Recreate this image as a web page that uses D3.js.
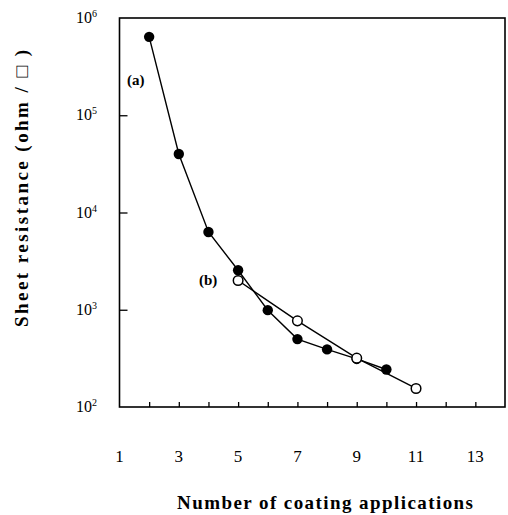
<!DOCTYPE html>
<html><head><meta charset="utf-8">
<script src="https://cdn.jsdelivr.net/npm/d3@7"></script>
<style>body{margin:0;background:#fff}svg{display:block}</style>
</head><body>
<script>
const seriesAX = [2, 3, 4, 5, 6, 7, 8, 9, 10];
const seriesAY = [640000, 40000, 6300, 2550, 990, 499, 391, 312, 243];
const seriesBX = [5, 7, 9, 11];
const seriesBY = [2000, 769, 318, 155];
const xTickLabels = [1, 3, 5, 7, 9, 11, 13];
const xMinorTicks = [2, 3, 4, 5, 6, 7, 8, 9, 10, 11, 12, 13];
const yTickExps = [2, 3, 4, 5, 6];

const W = 508, H = 515;
const svg = d3.select("body").append("svg").attr("width", W).attr("height", H);
const x = d3.scaleLinear().domain([1, 14]).range([119.5, 505]);
const y = d3.scaleLog().domain([100, 1e6]).range([407, 18]);
const serif = "'Liberation Serif','DejaVu Serif',serif";

// frame
svg.append("rect").attr("x", x(1)).attr("y", y(1e6))
  .attr("width", x(14) - x(1)).attr("height", y(100) - y(1e6))
  .attr("fill", "none").attr("stroke", "#000").attr("stroke-width", 1.6);

// bottom ticks (inward)
svg.append("g").attr("transform", `translate(0,${y(100)})`)
  .call(d3.axisBottom(x).tickValues(xMinorTicks).tickSize(-5).tickFormat(""))
  .call(g => g.select(".domain").remove())
  .call(g => g.selectAll("line").attr("stroke-width", 1.3));

// x tick labels
svg.append("g").selectAll("text").data(xTickLabels).join("text")
  .attr("x", d => x(d)).attr("y", 462)
  .attr("text-anchor", "middle").attr("font-family", serif)
  .attr("font-size", 17).text(d => d);

// left ticks (inward)
svg.append("g").attr("transform", `translate(${x(1)},0)`)
  .call(d3.axisLeft(y).tickValues([1e3, 1e4, 1e5]).tickSize(-8).tickFormat(""))
  .call(g => g.select(".domain").remove())
  .call(g => g.selectAll("line").attr("stroke-width", 1.3));

// y tick labels 10^n
const yl = svg.append("g").selectAll("text").data(yTickExps).join("text")
  .attr("x", 97).attr("y", d => y(Math.pow(10, d)) + 5)
  .attr("text-anchor", "end").attr("font-family", serif).attr("font-size", 16);
yl.append("tspan").text("10");
yl.append("tspan").attr("dy", -6).attr("font-size", 10).text(d => d);

// lines
const line = d3.line().x(d => x(d[0])).y(d => y(d[1]));
const dataA = seriesAX.map((v, i) => [v, seriesAY[i]]);
const dataB = seriesBX.map((v, i) => [v, seriesBY[i]]);
svg.append("path").datum(dataA).attr("d", line).attr("fill", "none")
  .attr("stroke", "#000").attr("stroke-width", 1.4);
svg.append("path").datum(dataB).attr("d", line).attr("fill", "none")
  .attr("stroke", "#000").attr("stroke-width", 1.4);

svg.append("g").selectAll("circle").data(dataA).join("circle")
  .attr("cx", d => x(d[0])).attr("cy", d => y(d[1])).attr("r", 5.2)
  .attr("fill", "#000");
svg.append("g").selectAll("circle").data(dataB).join("circle")
  .attr("cx", d => x(d[0])).attr("cy", d => y(d[1])).attr("r", 4.8)
  .attr("fill", "#fff").attr("stroke", "#000").attr("stroke-width", 1.5);

// series labels
svg.append("text").attr("x", 127).attr("y", 85).attr("font-family", serif)
  .attr("font-weight", "bold").attr("font-size", 15).text("(a)");
svg.append("text").attr("x", 199).attr("y", 285).attr("font-family", serif)
  .attr("font-weight", "bold").attr("font-size", 15).text("(b)");

// axis titles
svg.append("text").attr("x", 177).attr("y", 509).attr("font-family", serif)
  .attr("font-weight", "bold").attr("font-size", 19)
  .attr("textLength", 296).attr("lengthAdjust", "spacing")
  .text("Number of coating applications");
svg.append("text").attr("transform", "translate(28,327) rotate(-90)")
  .attr("font-family", serif).attr("font-weight", "bold").attr("font-size", 19)
  .attr("textLength", 277).attr("lengthAdjust", "spacing")
  .text("Sheet resistance (ohm / \u25A1 )");
</script>
</body></html>
